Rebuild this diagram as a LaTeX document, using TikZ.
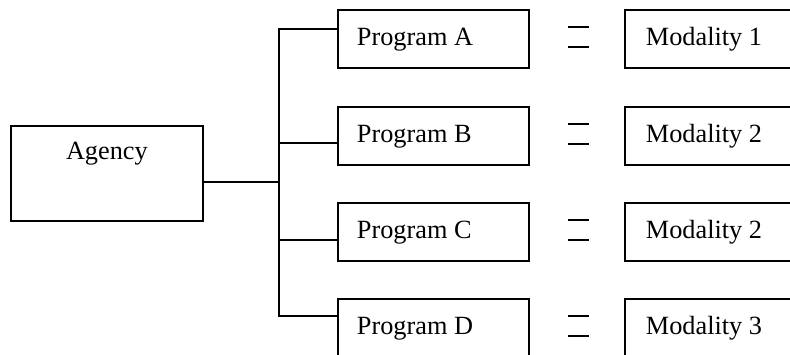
\documentclass[tikz,border=0pt]{standalone}
\usepackage{fontspec}
\setmainfont{Liberation Serif}
\begin{document}
\begin{tikzpicture}[x=1pt, y=-1pt, line width=1.8pt,
  box/.style={draw, rectangle, anchor=north west, inner ysep=0pt,
    font=\fontsize{26.3}{30}\selectfont},
  progbox/.style={box, inner xsep=19pt, text width=153pt, align=flush left,
    minimum height=58pt, text height=36pt, text depth=22pt},
  modbox/.style={box, inner xsep=21pt, text width=150pt, align=flush left,
    minimum height=58pt, text height=36pt, text depth=22pt},
  eqmark/.style={line width=1.6pt}]
  \useasboundingbox (0,0) rectangle (790,354);
  \clip (0,0) rectangle (790,354);

  % agency box, label set near the top
  \node[box, inner xsep=0pt, minimum width=192pt, text height=34pt, text depth=61pt]
    (agency) at (10,125) {Agency};

  % programs
  \node[progbox] (pA) at (337,9)   {Program A};
  \node[progbox] (pB) at (337,106) {Program B};
  \node[progbox] (pC) at (337,202) {Program C};
  \node[progbox] (pD) at (337,298) {Program D};

  % modalities
  \node[modbox] (mA) at (624,9)   {Modality 1};
  \node[modbox] (mB) at (624,106) {Modality 2};
  \node[modbox] (mC) at (624,202) {Modality 2};
  \node[modbox] (mD) at (624,298) {Modality 3};

  % branch points on the vertical bus
  \coordinate (hub) at (279,182);
  \coordinate (jA) at (279,29);
  \coordinate (jB) at (279,143);
  \coordinate (jC) at (279,240);
  \coordinate (jD) at (279,316);

  % tree connectors
  \draw (agency.east |- hub) -- (hub);
  \draw (pA.west |- jA) -- (jA) -- (jD) -- (pD.west |- jD);
  \draw (jB) -- (pB.west |- jB);
  \draw (jC) -- (pC.west |- jC);

  % equal marks between program and modality
  \foreach \p in {pA,pB,pC,pD}{
    \draw[eqmark] ([shift={(38,18)}]\p.north east) -- ++(21,0);
    \draw[eqmark] ([shift={(38,38)}]\p.north east) -- ++(21,0);
  }
\end{tikzpicture}
\end{document}
